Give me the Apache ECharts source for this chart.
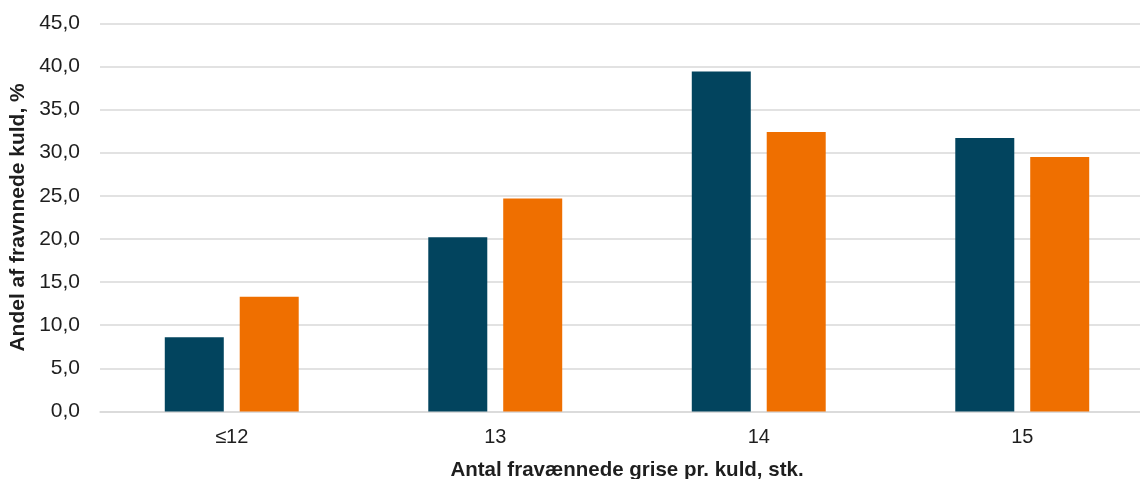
<!DOCTYPE html>
<html>
<head>
<meta charset="utf-8">
<script src="https://cdn.jsdelivr.net/npm/echarts@6/dist/echarts.min.js"></script>
<style>
  html, body { margin: 0; padding: 0; background: #fff; }
  #chart { width: 1140px; height: 479px; }
</style>
</head>
<body>
<div id="chart"></div>
<script>
// data
const categories = ['≤12', '13', '14', '15'];
const seriesA = [8.6, 20.2, 39.4, 31.7];
const seriesB = [13.3, 24.7, 32.4, 29.5];
const yTicks = { min: 0, max: 45, interval: 5 };

const font = '"Liberation Sans", Arial, sans-serif';
const textColor = '#1e1e1e';

const chart = echarts.init(document.getElementById('chart'));

chart.setOption({
  animation: false,
  textStyle: { fontFamily: font },
  grid: { left: 100, top: 23.3, right: -14, bottom: 67.5, outerBoundsMode: 'none', containLabel: false },
  xAxis: {
    type: 'category',
    data: categories,
    name: 'Antal fravænnede grise pr. kuld, stk.',
    nameLocation: 'middle',
    nameGap: 48,
    nameTextStyle: { fontFamily: font, fontSize: 20.5, fontWeight: 'bold', color: textColor },
    axisLine: { show: true, lineStyle: { color: '#d9d9d9', width: 1.5 } },
    axisTick: { show: false },
    axisLabel: { fontFamily: font, fontSize: 20, color: textColor, margin: 16 },
  },
  yAxis: {
    type: 'value',
    min: yTicks.min,
    max: yTicks.max,
    interval: yTicks.interval,
    name: 'Andel af fravnnede kuld, %',
    nameLocation: 'middle',
    nameGap: 68,
    nameTextStyle: { fontFamily: font, fontSize: 21, fontWeight: 'bold', color: textColor },
    axisLine: { show: false },
    axisTick: { show: false },
    splitLine: { lineStyle: { color: '#d9d9d9', width: 1.5 } },
    axisLabel: {
      fontFamily: font,
      fontSize: 21,
      color: textColor,
      margin: 20,
      formatter: (v) => v.toFixed(1).replace('.', ','),
    },
  },
  series: [
    {
      name: 'A',
      type: 'bar',
      data: seriesA,
      barWidth: 59,
      barGap: '27%',
      itemStyle: { color: '#02445e' },
    },
    {
      name: 'B',
      type: 'bar',
      data: seriesB,
      barWidth: 59,
      itemStyle: { color: '#ef6f00' },
    },
  ],
});
</script>
</body>
</html>
